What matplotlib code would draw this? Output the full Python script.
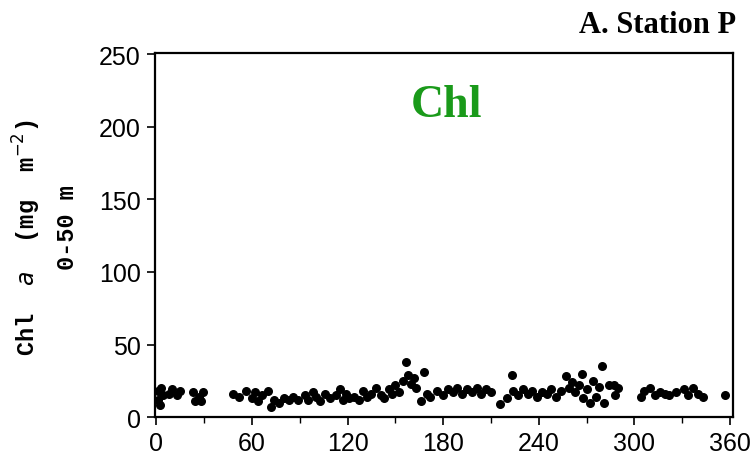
import matplotlib
matplotlib.use("Agg")
import matplotlib.pyplot as plt
from matplotlib.ticker import MultipleLocator

# day of year and Chl a (mg m-2, 0-50 m)
day = [1, 1, 2, 3, 4, 8, 10, 13, 15, 23, 24, 27, 28, 29,
       48, 52, 56, 60, 62, 64, 66, 70, 72, 74, 77, 80, 83, 86, 89,
       93, 95, 98, 100, 103, 106, 109, 113, 115, 117, 119, 121, 124, 127,
       130, 132, 135, 138, 141, 143, 146, 148, 150,
       152, 155, 157, 158, 160, 162, 163, 166, 168, 170, 172, 176, 180, 183,
       186, 189, 192, 195, 198, 201, 204, 207, 210, 216, 220, 223, 224, 227,
       230, 233, 236, 239, 242, 245, 248, 251, 254,
       257, 259, 261, 263, 265, 267, 268, 270, 272, 274, 276, 278, 280, 281,
       284, 287, 288, 290,
       304, 306, 310, 313, 316, 319, 322, 326, 331, 334, 337, 340, 343, 357]
chl = [18, 12, 8, 20, 15, 16, 19, 15, 18, 17, 11, 14, 11, 17,
       16, 14, 18, 13, 17, 11, 15, 18, 7, 12, 10, 13, 12, 14, 12,
       15, 12, 17, 14, 11, 16, 13, 15, 19, 12, 16, 13, 14, 12,
       18, 14, 16, 20, 15, 13, 19, 16, 22,
       17, 25, 38, 29, 23, 27, 20, 11, 31, 16, 14, 18, 15, 19,
       17, 20, 16, 19, 17, 20, 16, 19, 17, 9, 13, 29, 18, 15,
       19, 16, 18, 14, 17, 16, 19, 14, 18,
       28, 20, 24, 17, 22, 30, 13, 19, 10, 25, 14, 21, 35, 10,
       22, 22, 15, 20,
       14, 18, 20, 15, 17, 16, 15, 17, 19, 15, 20, 16, 14, 15]

fig = plt.figure(figsize=(7.55, 4.64), dpi=100)
ax = fig.add_axes([0.205, 0.099, 0.766, 0.785])

ax.scatter(day, chl, s=30, c="black", zorder=3)

ax.set_xlim(-1, 362)
ax.set_ylim(0, 251)
ax.xaxis.set_major_locator(MultipleLocator(60))
ax.xaxis.set_minor_locator(MultipleLocator(30))
ax.yaxis.set_major_locator(MultipleLocator(50))
ax.tick_params(axis="both", which="major", direction="out", length=6, width=1.2,
               labelsize=18, pad=4)
ax.tick_params(axis="x", which="minor", direction="out", length=4, width=1.0)
for lbl in ax.get_xticklabels() + ax.get_yticklabels():
    lbl.set_family("Liberation Sans")
for s in ax.spines.values():
    s.set_linewidth(1.6)

# y label (two lines)
fig.text(0.035, 0.487, "Chl  $\\it{a}$  (mg  m$^{-2}$)", rotation=90,
         ha="center", va="center", fontsize=17, family="Liberation Mono",
         fontweight="bold")
fig.text(0.09, 0.51, "0-50 m", rotation=90, ha="center", va="center",
         fontsize=17, family="Liberation Mono", fontweight="bold")

fig.text(0.975, 0.945, "A. Station P", ha="right", va="center", fontsize=22,
         family="Liberation Serif", fontweight="bold")
ax.text(0.505, 0.857, "Chl", transform=ax.transAxes, ha="center", va="center",
        fontsize=33, family="Liberation Serif", fontweight="bold", color="#1a9a1a")

fig.savefig("out.png", dpi=100)
